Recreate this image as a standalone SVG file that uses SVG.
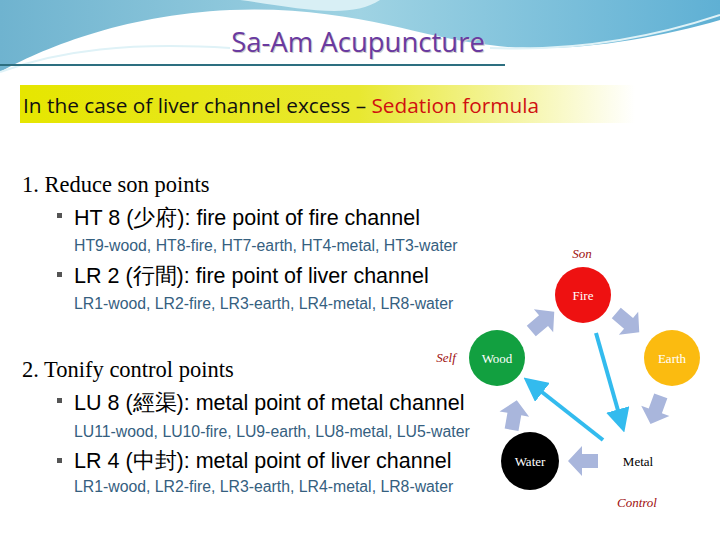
<svg xmlns="http://www.w3.org/2000/svg" width="720" height="540" viewBox="0 0 720 540">
<defs>
<linearGradient id="sky" x1="0" y1="0" x2="1" y2="0"><stop offset="0" stop-color="#6fb3cf"/><stop offset="0.5" stop-color="#9fd3e3"/><stop offset="1" stop-color="#5fb0d4"/></linearGradient>
<linearGradient id="band" x1="0" y1="0" x2="1" y2="0"><stop offset="0" stop-color="#e6e600"/><stop offset="0.55" stop-color="#e8e830"/><stop offset="1" stop-color="#ffffff"/></linearGradient>
<g id="blk"><polygon points="-14,-7 2,-7 2,-15 16,0 2,15 2,7 -14,7" fill="#a9b6dc"/></g>
<marker id="ah" markerWidth="6" markerHeight="6" refX="3" refY="3" orient="auto" markerUnits="strokeWidth"><path d="M0,0 L6,3 L0,6 Z" fill="#33bbee"/></marker>
<style>
.t{font-family:"Liberation Sans",Arial,sans-serif;}
.s{font-family:"Liberation Serif","Times New Roman",serif;}
.big{font-size:21.5px;fill:#000}
.num{font-size:22.5px;fill:#000}
.sm{font-size:15.8px;fill:#35607f}
.red{font-family:"Liberation Serif",serif;font-style:italic;font-size:13px;fill:#a01010}
.nl{font-family:"Liberation Serif",serif;font-size:13px;fill:#fff}
</style>
</defs>
<rect width="720" height="540" fill="#fff"/>
<g id="header">
<path d="M0,0 H720 V20 C650,40 560,55 490,45 C420,38 350,5 230,10 C120,15 40,50 0,72 Z" fill="url(#sky)"/>
<path d="M0,72 C60,50 130,42 230,48 M490,48 C580,52 660,35 720,15" stroke="#dff2f7" stroke-width="2" fill="none"/>
<path d="M240,0 C300,8 350,20 380,0 Z" fill="#d8eff5"/>
<text x="359" y="53" text-anchor="middle" font-family="Open Sans,sans-serif" font-size="27.5" fill="#ccc">Sa-Am Acupuncture</text>
<text x="358" y="52" text-anchor="middle" font-family="Open Sans,sans-serif" font-size="27.5" fill="#6a3aa0">Sa-Am Acupuncture</text>
<line x1="0" y1="65" x2="505" y2="65" stroke="#2d6f80" stroke-width="2"/>
<rect x="20" y="85" width="615" height="38" fill="url(#band)"/>
<text x="23" y="113" font-family="Open Sans,sans-serif" font-size="20.8" fill="#111">In the case of liver channel excess – <tspan fill="#d01010">Sedation formula</tspan></text>
</g>
<g id="text">
<text x="22" y="192" class="s num">1.  Reduce son points</text>
<rect x="57" y="213" width="5" height="5" fill="#555"/>
<text x="74" y="225" class="t big">HT 8 (少府): fire point of fire channel</text>
<text x="74" y="251" class="t sm">HT9-wood, HT8-fire, HT7-earth, HT4-metal, HT3-water</text>
<rect x="57" y="272" width="5" height="5" fill="#555"/>
<text x="74" y="283" class="t big">LR 2 (行間): fire point of liver channel</text>
<text x="74" y="309" class="t sm">LR1-wood, LR2-fire, LR3-earth, LR4-metal, LR8-water</text>
<text x="22" y="377" class="s num">2.  Tonify control points</text>
<rect x="57" y="398" width="5" height="5" fill="#555"/>
<text x="74" y="410" class="t big">LU 8 (經渠): metal point of metal channel</text>
<text x="74" y="437" class="t sm">LU11-wood, LU10-fire, LU9-earth, LU8-metal, LU5-water</text>
<rect x="57" y="458" width="5" height="5" fill="#555"/>
<text x="74" y="468" class="t big">LR 4 (中封): metal point of liver channel</text>
<text x="74" y="492" class="t sm">LR1-wood, LR2-fire, LR3-earth, LR4-metal, LR8-water</text>
</g>
<g id="connectors">
<use href="#blk" transform="translate(542,322) rotate(-40)"/>
<use href="#blk" transform="translate(627,322) rotate(40)"/>
<use href="#blk" transform="translate(656,409) rotate(110)"/>
<use href="#blk" transform="translate(584,461) rotate(180)"/>
<use href="#blk" transform="translate(514,416) rotate(-80)"/>
<line x1="596" y1="333" x2="621" y2="421" stroke="#33bbee" stroke-width="4" marker-end="url(#ah)"/>
<line x1="603" y1="440" x2="533" y2="385" stroke="#33bbee" stroke-width="4" marker-end="url(#ah)"/>
</g>
<g id="fire"><circle cx="583" cy="295" r="28" fill="#ee1111"/><text x="583" y="300" text-anchor="middle" class="nl">Fire</text></g>
<g id="wood"><circle cx="497" cy="358" r="28" fill="#12a040"/><text x="497" y="363" text-anchor="middle" class="nl">Wood</text></g>
<g id="earth"><circle cx="672" cy="358" r="28" fill="#fbbb10"/><text x="672" y="363" text-anchor="middle" class="nl">Earth</text></g>
<g id="water"><circle cx="530" cy="461" r="29" fill="#000"/><text x="530" y="466" text-anchor="middle" class="nl">Water</text></g>
<g id="metal"><text x="638" y="466" text-anchor="middle" font-family="Liberation Serif,serif" font-size="13" fill="#000">Metal</text></g>
<g id="labels">
<text x="582" y="258" text-anchor="middle" class="red">Son</text>
<text x="446" y="362" text-anchor="middle" class="red">Self</text>
<text x="637" y="507" text-anchor="middle" class="red">Control</text>
</g>
</svg>
